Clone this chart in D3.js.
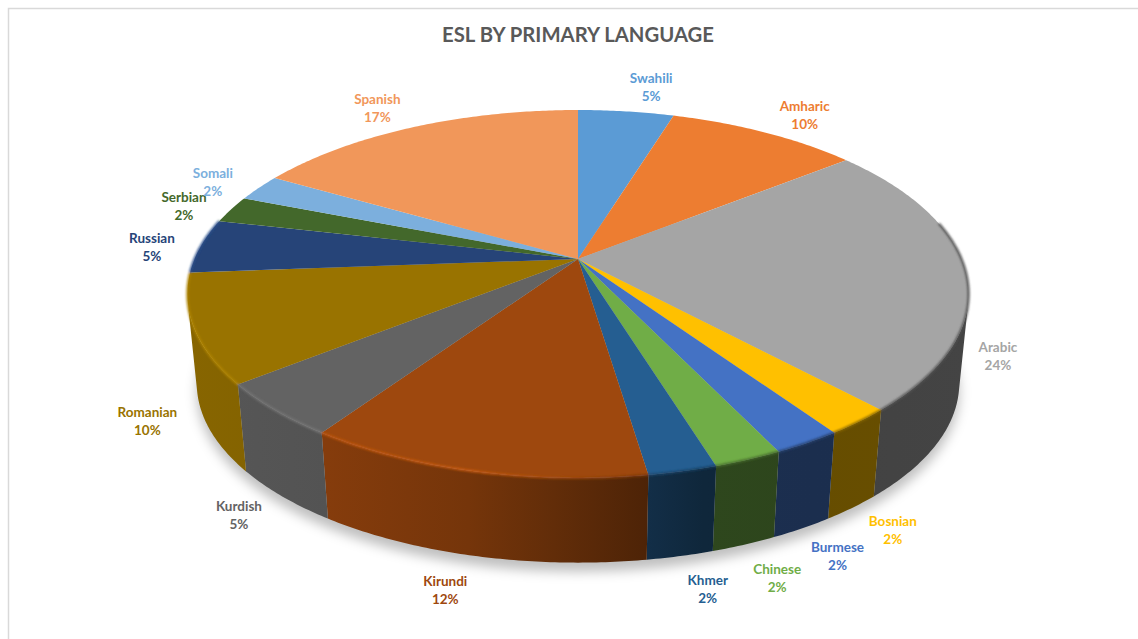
<!DOCTYPE html>
<html>
<head>
<meta charset="utf-8">
<style>
  html, body { margin: 0; padding: 0; background: #fff; }
  text { font-family: Lato, "Open Sans", sans-serif; font-weight: 700; }
</style>
<script src="https://cdn.jsdelivr.net/npm/d3@7/dist/d3.min.js"></script>
</head>
<body>
<svg id="chart" width="1138" height="639"></svg>
<script>
// Students per primary language, clockwise from twelve o'clock
const languages = ["Swahili", "Amharic", "Arabic", "Bosnian", "Burmese", "Chinese", "Khmer",
                   "Kirundi", "Kurdish", "Romanian", "Russian", "Serbian", "Somali", "Spanish"];
const students = [2, 4, 10, 1, 1, 1, 1, 5, 2, 4, 2, 1, 1, 7];
const sliceColors = ["#5B9BD5", "#ED7D31", "#A5A5A5", "#FFC000", "#4472C4", "#70AD47", "#255E91",
                     "#9E480E", "#636363", "#997300", "#264478", "#43682B", "#7CAFDD", "#F1975A"];
const chartTitle = "ESL BY PRIMARY LANGUAGE";

// Label displacement from the rim point at each slice's mid-angle
const labelNudges = [[25, -24], [40, -17], [32, 84], [34, 108], [30, 113], [29, 118], [25, 118],
                     [-28, 119], [-36, 105], [-47, 92], [-49, 1], [-47, -4], [-46, -6], [-36, -19]];

const centre = { x: 578, y: 259 };
const radiusX = 383.5, radiusY = 177.3, tilt = 0.19;
const thickness = 90, floorScale = 0.976;

// Perspective view of the disc: a point on the unit circle maps to the page
function project(angle, floor) {
  const ux = Math.sin(angle), uy = -Math.cos(angle);
  const s = 1 / (1 - tilt * uy);
  const q = floor ? floorScale : 1;
  return [centre.x + radiusX * ux * s * q,
          centre.y + (floor ? thickness : 0) + radiusY * uy * s * q];
}

function arcPoints(a0, a1, floor) {
  const n = Math.max(2, Math.ceil((a1 - a0) / 0.01));
  return d3.range(n + 1).map(i => project(a0 + (a1 - a0) * i / n, floor));
}

// Outer wall as thin facets, keeping only those that face the viewer
const facingSign = Math.sign(d3.polygonArea([
  project(Math.PI, false), project(Math.PI + 0.01, false),
  project(Math.PI + 0.01, true), project(Math.PI, true)]));

function wallPath(a0, a1) {
  const top = arcPoints(a0, a1, false), bottom = arcPoints(a0, a1, true);
  return d3.range(top.length - 1).map(i => {
    const quad = [top[i], top[i + 1], bottom[i + 1], bottom[i]];
    return Math.sign(d3.polygonArea(quad)) === facingSign ? line(quad) + "Z" : "";
  }).join("");
}

const line = d3.line();
const svg = d3.select("#chart");
const defs = svg.append("defs");

const shadowBlur = defs.append("filter").attr("id", "shadowBlur")
  .attr("x", "-10%").attr("y", "-20%").attr("width", "120%").attr("height", "140%");
shadowBlur.append("feGaussianBlur").attr("stdDeviation", 6);
const rimBlur = defs.append("filter").attr("id", "rimBlur")
  .attr("filterUnits", "userSpaceOnUse").attr("x", 0).attr("y", 0).attr("width", 1138).attr("height", 639);
rimBlur.append("feGaussianBlur").attr("stdDeviation", 0.9);

// Chart frame
svg.append("rect").attr("x", 8.5).attr("y", 8.5).attr("width", 1300).attr("height", 700)
  .attr("fill", "none").attr("stroke", "#d9d9d9").attr("stroke-width", 1.5);

// Title
svg.append("text").attr("x", 578).attr("y", 42).attr("text-anchor", "middle")
  .attr("font-size", 20.3).attr("fill", "#595959").text(chartTitle);

const slices = d3.pie().value(d => d).sort(null)(students);
const midAngle = d => (d.startAngle + d.endAngle) / 2;

// Lighting falls off from left to right across the wall and the rim
const shadeStops = [0, 0.18, 0.36, 0.47, 0.58, 0.66, 0.8, 1];
const wallShade = d3.scaleLinear().domain(shadeStops).range([0.88, 0.84, 0.74, 0.62, 0.5, 0.41, 0.4, 0.41]);
const rimShade = d3.scaleLinear().domain(shadeStops).range([1.14, 1.2, 1.28, 1.04, 0.78, 0.66, 0.55, 0.48]);

function tone(color, f) {
  const c = d3.rgb(color);
  return d3.rgb(Math.min(255, c.r * f), Math.min(255, c.g * f), Math.min(255, c.b * f)).formatHex();
}

function addGradient(id, color, shade) {
  const g = defs.append("linearGradient").attr("id", id).attr("gradientUnits", "userSpaceOnUse")
    .attr("x1", centre.x - radiusX * 1.02).attr("x2", centre.x + radiusX * 1.02)
    .attr("y1", 0).attr("y2", 0);
  shadeStops.forEach(t => {
    g.append("stop").attr("offset", t).attr("stop-color", tone(color, shade(t)));
  });
}

sliceColors.forEach((c, i) => {
  addGradient("wall" + i, c, wallShade);
  addGradient("rim" + i, c, rimShade);
});

// Soft shadow cast under the disc
svg.append("path")
  .attr("d", line(arcPoints(0, 2 * Math.PI, true)) + "Z")
  .attr("transform", "translate(0 9)")
  .attr("fill", "#000").attr("fill-opacity", 0.25)
  .attr("filter", "url(#shadowBlur)");

// Outer wall of each slice
svg.append("g").selectAll("path").data(slices).join("path")
  .attr("d", d => wallPath(d.startAngle, d.endAngle))
  .attr("fill", d => `url(#wall${d.index})`);

// Top face of each slice
svg.append("g").selectAll("path").data(slices).join("path")
  .attr("d", d => line([[centre.x, centre.y]].concat(arcPoints(d.startAngle, d.endAngle, false))) + "Z")
  .attr("fill", (d, i) => sliceColors[i]);

// Bevelled rim along the near edge of the disc
const rimFrom = 78 * Math.PI / 180, rimTo = 283 * Math.PI / 180;
svg.append("g").attr("filter", "url(#rimBlur)").attr("fill", "none")
  .selectAll("path").data(slices.filter(d => d.endAngle > rimFrom && d.startAngle < rimTo)).join("path")
  .attr("d", d => line(arcPoints(Math.max(d.startAngle, rimFrom), Math.min(d.endAngle, rimTo), false)))
  .attr("stroke", d => `url(#rim${d.index})`)
  .attr("stroke-width", 2.2);

// Two-line data labels: name and rounded share
const total = d3.sum(students);
const percent = d3.format(".0%");
const labels = svg.append("g").attr("text-anchor", "middle").attr("font-size", 13.5)
  .selectAll("text").data(slices).join("text")
  .attr("fill", (d, i) => sliceColors[i])
  .attr("transform", (d, i) => {
    const [x, y] = project(midAngle(d), false);
    return `translate(${x + labelNudges[i][0]},${y + labelNudges[i][1]})`;
  });
labels.append("tspan").attr("x", 0).attr("y", -4).text((d, i) => languages[i]);
labels.append("tspan").attr("x", 0).attr("y", 14).text(d => percent(d.value / total));
</script>
</body>
</html>
